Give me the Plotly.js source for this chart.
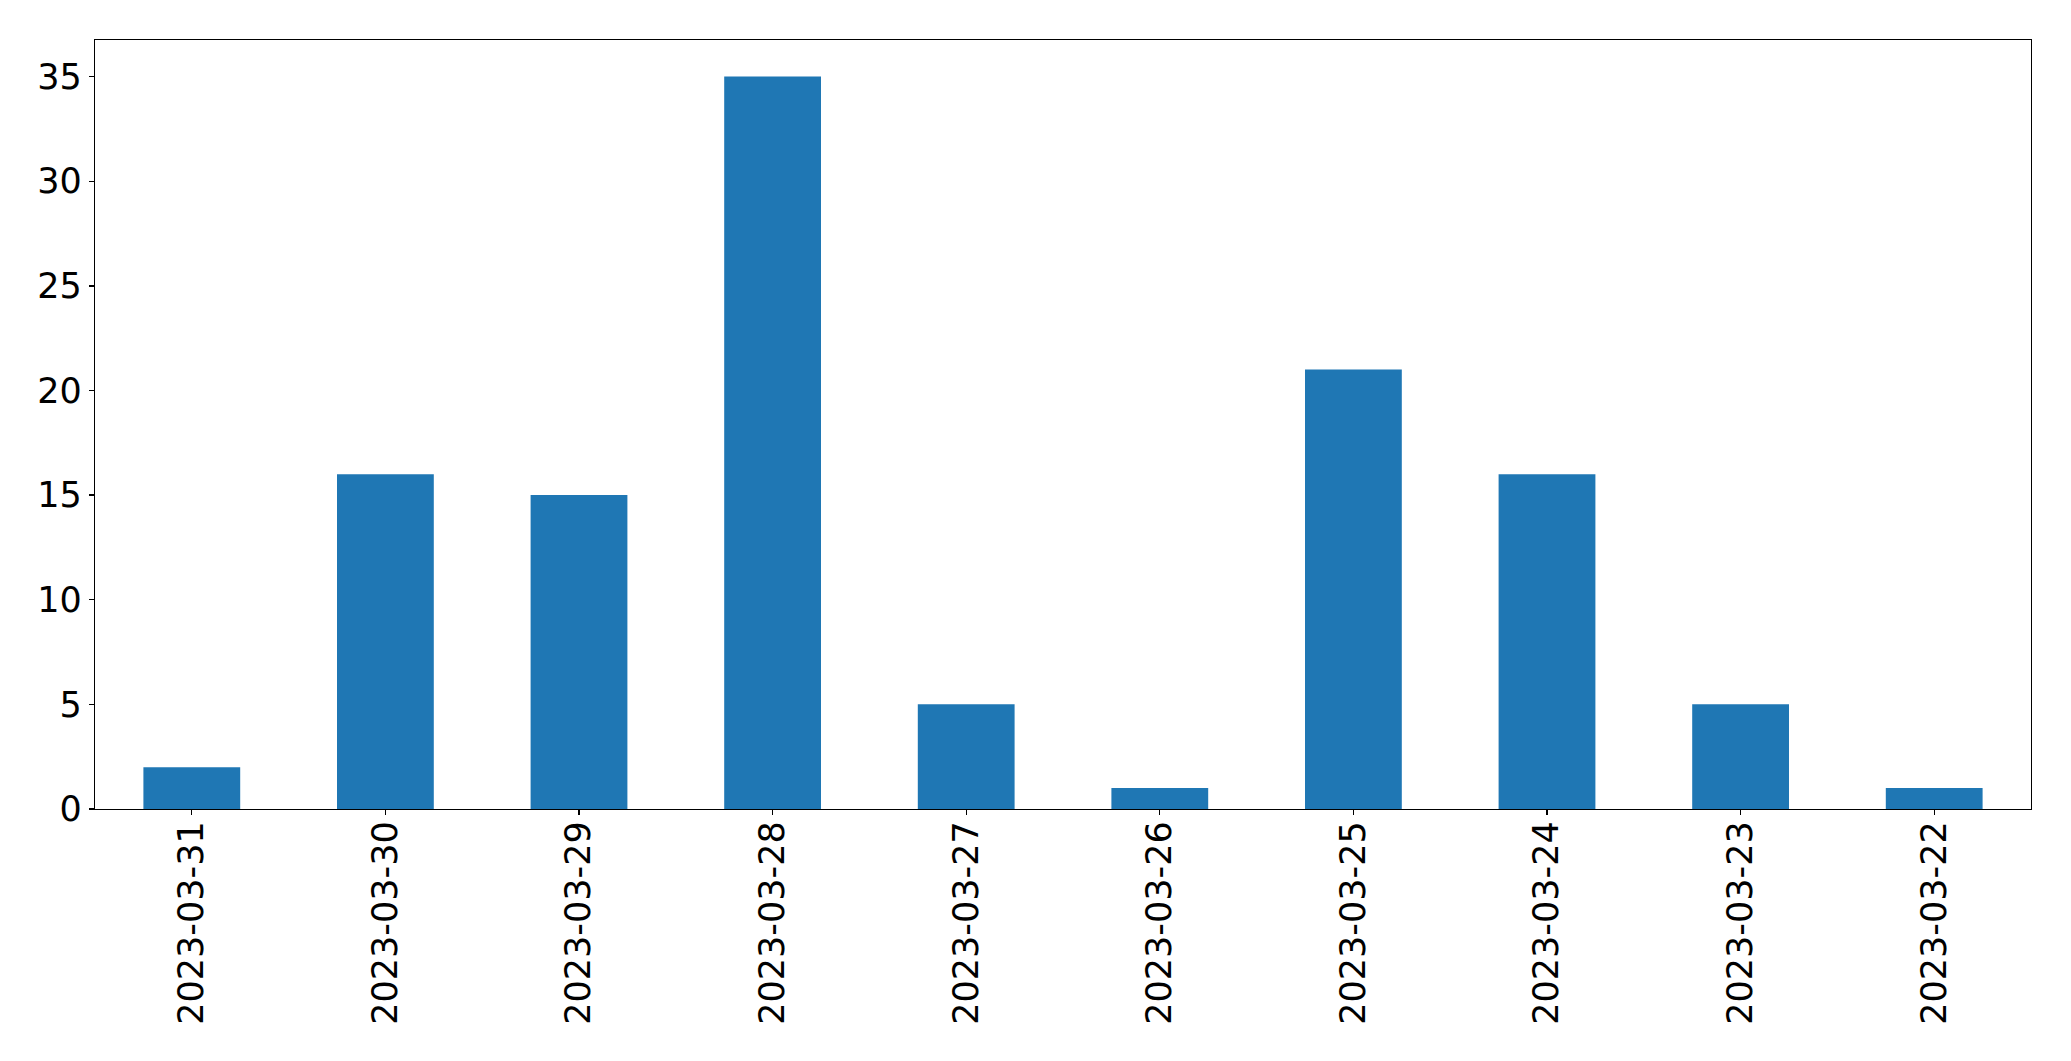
<!DOCTYPE html>
<html>
<head>
<meta charset="utf-8">
<script src="https://cdn.plot.ly/plotly-3.0.1.min.js"></script>
<style>html,body{margin:0;padding:0;background:#fff;}#chart{width:2071px;height:1061px;}</style>
</head>
<body>
<div id="chart"></div>
<script>
const categories = ["2023-03-31","2023-03-30","2023-03-29","2023-03-28","2023-03-27","2023-03-26","2023-03-25","2023-03-24","2023-03-23","2023-03-22"];
const counts = [2, 16, 15, 35, 5, 1, 21, 16, 5, 1];
const yTicks = [0, 5, 10, 15, 20, 25, 30, 35];

const trace = {
  type: 'bar',
  x: categories,
  y: counts,
  width: 0.5,
  marker: {color: '#1f77b4', line: {width: 0}},
  hoverinfo: 'x+y'
};

const layout = {
  width: 2071, height: 1061,
  margin: {l: 94.5, r: 39.5, t: 39.5, b: 252, pad: 0},
  paper_bgcolor: '#ffffff', plot_bgcolor: '#ffffff',
  showlegend: false,
  font: {family: 'DejaVu Sans', size: 35, color: '#000000'},
  xaxis: {
    type: 'category',
    range: [-0.5, 9.5],
    showgrid: false, zeroline: false,
    showline: true, mirror: true, linecolor: '#000000', linewidth: 1.3,
    ticks: 'outside', ticklen: 5, tickwidth: 1.3, tickcolor: '#000000',
    tickangle: -90,
    ticklabelstandoff: -8,
    tickfont: {family: 'DejaVu Sans', size: 35, color: '#000000'}
  },
  yaxis: {
    range: [0, 36.75],
    tickvals: yTicks,
    ticktext: yTicks.map(String),
    showgrid: false, zeroline: false,
    showline: true, mirror: true, linecolor: '#000000', linewidth: 1.3,
    ticks: 'outside', ticklen: 5, tickwidth: 1.3, tickcolor: '#000000',
    tickfont: {family: 'DejaVu Sans', size: 35, color: '#000000'}
  }
};

Plotly.newPlot('chart', [trace], layout, {displayModeBar: false, staticPlot: true});
</script>
</body>
</html>
